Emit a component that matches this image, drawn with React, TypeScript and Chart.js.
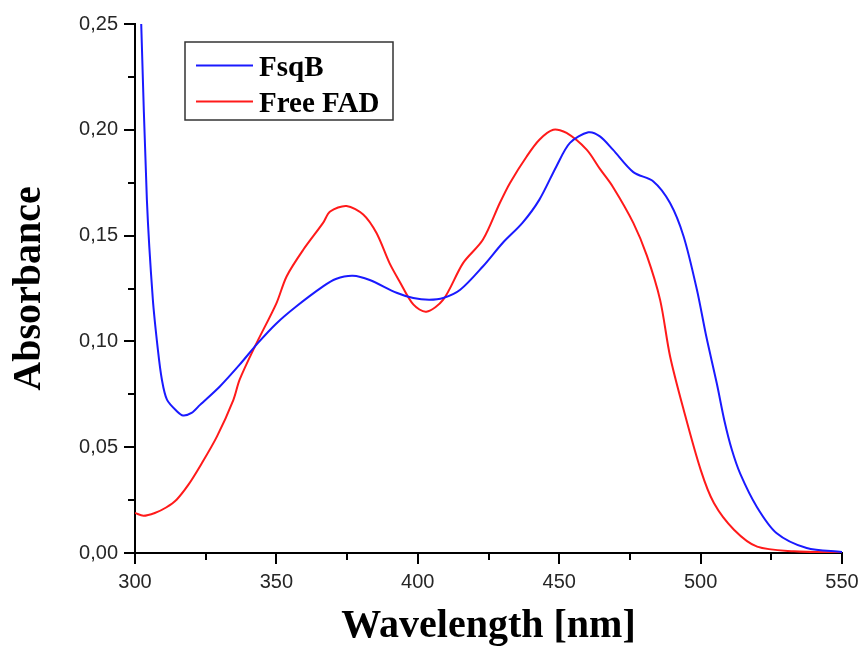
import React, { useEffect, useRef } from "react";
import { Chart, registerables } from "chart.js";

Chart.register(...registerables);

// ---- Data ----
const fsqbWavelength = [
  302.2, 304.2, 306.3, 308.1, 309.5, 311.3, 314.9, 317, 320, 323, 330, 337, 343.5, 350,
  357, 366.5, 371, 377, 383, 392.5, 398.4, 404, 409, 415, 423, 430, 437, 443, 449, 453.8,
  460.3, 464.4, 469, 476.2, 483.3, 489.2, 494, 498.7, 502, 505.7, 508.5, 511, 514, 519.8,
  526.8, 537.5, 550,
];
const fsqbAbsorbance = [
  0.25, 0.167, 0.12, 0.096, 0.082, 0.0725, 0.0669, 0.065, 0.0662, 0.07, 0.0787, 0.089,
  0.0993, 0.1085, 0.1165, 0.126, 0.1295, 0.131, 0.129, 0.123, 0.1205, 0.1197, 0.1205, 0.1244,
  0.1354, 0.1465, 0.156, 0.167, 0.1827, 0.1938, 0.1988, 0.1969, 0.1906, 0.18, 0.1756, 0.1654,
  0.1496, 0.1244, 0.1024, 0.0803, 0.062, 0.049, 0.0375, 0.022, 0.0095, 0.0024, 0.0005,
];

const fadWavelength = [
  300, 303, 307, 311, 314.7, 318.9, 323, 329, 334.8, 337, 342.4, 350, 353.6, 359.5, 366.5,
  369, 374.8, 380.7, 385.4, 390, 393.7, 398.4, 403, 409, 416, 423, 429, 432.6, 438.5,
  443, 447.9, 452.6, 459.7, 464.4, 469, 476.2, 481, 485.7, 489.2, 494, 500, 504.7, 511.8,
  520, 533, 550,
];
const fadAbsorbance = [
  0.0189, 0.0176, 0.0189, 0.0215, 0.0252, 0.0323, 0.041, 0.0551, 0.0724, 0.0819, 0.0976,
  0.118, 0.1307, 0.1433, 0.156, 0.1614, 0.164, 0.16, 0.1512, 0.137, 0.128, 0.1175,
  0.114, 0.1197, 0.137, 0.148, 0.1654, 0.1749, 0.1874, 0.1953, 0.2, 0.1985, 0.1906, 0.1815,
  0.173, 0.156, 0.1405, 0.1195, 0.093, 0.0677, 0.0394, 0.0236, 0.011, 0.003, 0.0008, 0.0002,
];

const seriesLabels = ["FsqB", "Free FAD"];
const seriesColors = ["#1a1aff", "#ff1a1a"];

const xMin = 300;
const xMax = 550;
const xStep = 50;
const xMinorTicks = [325, 375, 425, 475, 525];
const yMin = 0;
const yMax = 0.25;
const yStep = 0.05;
const yMinorTicks = [0.025, 0.075, 0.125, 0.175, 0.225];

const xTitle = "Wavelength [nm]";
const yTitle = "Absorbance";

const toPoints = (xs: number[], ys: number[]) => xs.map((x, i) => ({ x, y: ys[i] }));

const minorTicksPlugin = {
  id: "minorTicks",
  afterDraw(chart: any) {
    const ctx = chart.ctx;
    const xs = chart.scales.x;
    const ys = chart.scales.y;
    ctx.save();
    ctx.strokeStyle = "#000";
    ctx.lineWidth = 2;
    ctx.beginPath();
    for (const v of xMinorTicks) {
      const px = Math.round(xs.getPixelForValue(v));
      ctx.moveTo(px, xs.top);
      ctx.lineTo(px, xs.top + 7);
    }
    for (const v of yMinorTicks) {
      const py = Math.round(ys.getPixelForValue(v));
      ctx.moveTo(ys.right - 7, py);
      ctx.lineTo(ys.right, py);
    }
    ctx.stroke();
    ctx.restore();
  },
};

const legendPlugin = {
  id: "boxLegend",
  afterDraw(chart: any) {
    const ctx = chart.ctx;
    const ds = chart.data.datasets;
    const bx = 185;
    const by = 42;
    const bw = 208;
    const bh = 78;
    ctx.save();
    ctx.fillStyle = "#fff";
    ctx.fillRect(bx, by, bw, bh);
    ctx.strokeStyle = "#333";
    ctx.lineWidth = 1.5;
    ctx.strokeRect(bx, by, bw, bh);
    ctx.font = "bold 29px 'Liberation Serif', 'Times New Roman', serif";
    ctx.textBaseline = "alphabetic";
    ctx.textAlign = "left";
    const rows = [65.5, 101.5];
    ds.forEach((d: any, i: number) => {
      const y = rows[i];
      ctx.strokeStyle = d.borderColor;
      ctx.lineWidth = 2;
      ctx.beginPath();
      ctx.moveTo(196, y);
      ctx.lineTo(253, y);
      ctx.stroke();
      ctx.fillStyle = "#000";
      ctx.fillText(d.label, 259, y + 10);
    });
    ctx.restore();
  },
};

export default function App() {
  const canvasRef = useRef<HTMLCanvasElement | null>(null);

  useEffect(() => {
    document.body.style.margin = "0";
    const canvas = canvasRef.current;
    if (!canvas) return;
    const chart = new Chart(canvas, {
      type: "line",
      data: {
        datasets: [
          {
            label: seriesLabels[0],
            data: toPoints(fsqbWavelength, fsqbAbsorbance),
            borderColor: seriesColors[0],
            borderWidth: 2,
            pointRadius: 0,
            fill: false,
            tension: 0.3,
          },
          {
            label: seriesLabels[1],
            data: toPoints(fadWavelength, fadAbsorbance),
            borderColor: seriesColors[1],
            borderWidth: 2,
            pointRadius: 0,
            fill: false,
            tension: 0.3,
          },
        ],
      },
      options: {
        animation: false,
        responsive: false,
        maintainAspectRatio: false,
        devicePixelRatio: 1,
        layout: { padding: { left: 0, right: 18, top: 24, bottom: 0 } },
        plugins: {
          legend: { display: false },
          tooltip: { enabled: false },
        },
        scales: {
          x: {
            type: "linear",
            min: xMin,
            max: xMax,
            afterFit: (s: any) => {
              s.height = 95;
              s.paddingLeft = 0;
              s.paddingRight = 0;
            },
            border: { display: true, color: "#000", width: 2 },
            grid: { display: true, drawOnChartArea: false, drawTicks: true, tickLength: 11, color: "#000", lineWidth: 2 },
            ticks: {
              stepSize: xStep,
              color: "#262626",
              padding: 6,
              maxRotation: 0,
              font: { family: "'Liberation Sans', Arial, sans-serif", size: 20 },
              callback: (v: any) => String(v),
            },
            title: {
              display: true,
              text: xTitle,
              color: "#000",
              font: { family: "'Liberation Serif', 'Times New Roman', serif", size: 40, weight: "bold", lineHeight: 1 },
              padding: { top: 0, bottom: 1 },
            },
          },
          y: {
            type: "linear",
            min: yMin,
            max: yMax,
            afterFit: (s: any) => {
              s.width = 135;
              s.paddingTop = 0;
              s.paddingBottom = 0;
            },
            border: { display: true, color: "#000", width: 2 },
            grid: { display: true, drawOnChartArea: false, drawTicks: true, tickLength: 11, color: "#000", lineWidth: 2 },
            ticks: {
              stepSize: yStep,
              color: "#262626",
              padding: 6,
              font: { family: "'Liberation Sans', Arial, sans-serif", size: 20 },
              callback: (v: any) => Number(v).toFixed(2).replace(".", ","),
            },
            title: {
              display: true,
              text: yTitle,
              color: "#000",
              font: { family: "'Liberation Serif', 'Times New Roman', serif", size: 40, weight: "bold", lineHeight: 1.2 },
              padding: { top: 6, bottom: 0 },
            },
          },
        },
      },
      plugins: [minorTicksPlugin, legendPlugin],
    } as any);
    return () => chart.destroy();
  }, []);

  return (
    <div style={{ width: 860, height: 648, background: "#fff" }}>
      <canvas ref={canvasRef} width={860} height={648} style={{ display: "block", width: 860, height: 648 }} />
    </div>
  );
}
